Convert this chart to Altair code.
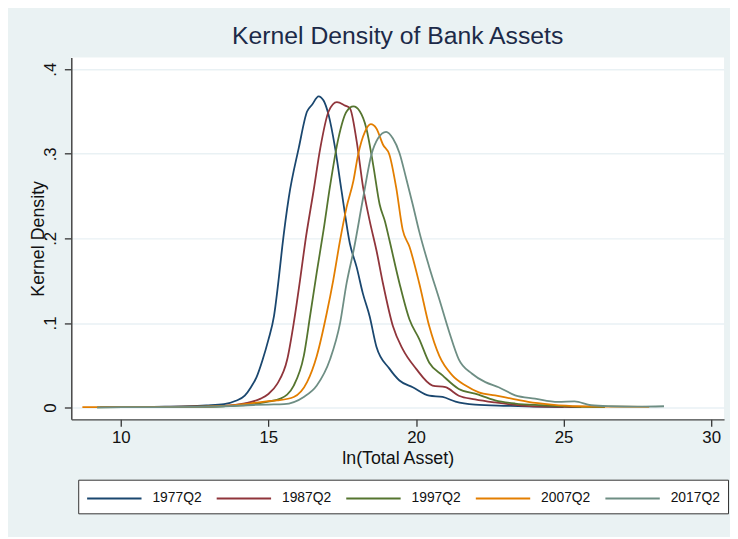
import altair as alt
import pandas as pd

series_names = ["1977Q2", "1987Q2", "1997Q2", "2007Q2", "2017Q2"]
series_colors = ["#1a476f", "#90353b", "#55752f", "#e37e00", "#6e8e84"]

x_1977 = [9.3, 10.5, 11.5, 12.3, 12.9, 13.5, 13.9, 14.2, 14.41, 14.6, 14.8, 15.0, 15.19, 15.36, 15.47,
          15.69, 16.03, 16.31, 16.48, 16.70, 16.87, 17.04, 17.26, 17.48, 17.76, 17.99, 18.2, 18.43,
          18.66, 19.1, 19.44, 19.89, 20.45, 20.9, 21.34, 22.0, 23.1, 24.0, 25.0]
y_1977 = [0.0005, 0.0007, 0.001, 0.0015, 0.0025, 0.004, 0.008, 0.014, 0.024, 0.036, 0.056, 0.08, 0.108,
          0.155, 0.19, 0.248, 0.307, 0.35, 0.358, 0.368, 0.363, 0.346, 0.307, 0.256, 0.194, 0.166, 0.135,
          0.108, 0.072, 0.046, 0.032, 0.024, 0.014, 0.0125, 0.007, 0.0035, 0.002, 0.001, 0.0005]

x_1987 = [9.5, 11.0, 12.5, 13.5, 14.2, 14.74, 15.0, 15.30, 15.64, 15.86, 16.09, 16.25, 16.53, 16.76,
          17.04, 17.32, 17.6, 17.76, 17.99, 18.21, 18.43, 18.66, 18.88, 19.22, 19.55, 20.0, 20.56,
          21.0, 21.45, 22.0, 22.68, 23.7, 24.6, 25.6]
y_1987 = [0.0004, 0.0006, 0.001, 0.002, 0.005, 0.0105, 0.016, 0.028, 0.057, 0.1, 0.155, 0.196, 0.256,
          0.307, 0.35, 0.361, 0.357, 0.354, 0.315, 0.26, 0.221, 0.186, 0.147, 0.096, 0.069, 0.046, 0.026,
          0.024, 0.014, 0.0097, 0.006, 0.002, 0.001, 0.0005]

x_1997 = [9.2, 11.0, 12.5, 13.5, 14.5, 15.0, 15.41, 15.86, 16.2, 16.42, 16.64, 16.87, 17.09, 17.37,
          17.65, 17.88, 18.1, 18.32, 18.55, 18.77, 18.95, 19.1, 19.44, 19.78, 20.11, 20.45, 20.9,
          21.45, 22.0, 22.68, 23.36, 24.25, 25.3, 26.4]
y_1997 = [0.0003, 0.0005, 0.0008, 0.0015, 0.004, 0.007, 0.0105, 0.026, 0.061, 0.11, 0.16, 0.21,
          0.262, 0.318, 0.35, 0.356, 0.35, 0.33, 0.287, 0.24, 0.22, 0.198, 0.147, 0.104, 0.081, 0.053,
          0.038, 0.022, 0.0164, 0.0085, 0.0047, 0.0027, 0.0012, 0.0005]

x_2007 = [8.7, 9.5, 11.0, 12.5, 13.5, 14.41, 15.0, 15.3, 15.86, 16.31, 16.64, 16.98, 17.2, 17.43,
          17.65, 17.88, 18.04, 18.27, 18.47, 18.66, 18.88, 19.1, 19.33, 19.55, 19.78, 20.11, 20.45,
          20.79, 21.23, 21.68, 22.13, 22.68, 23.24, 23.8, 24.59, 25.5, 26.6, 27.9]
y_2007 = [0.0005, 0.0005, 0.0006, 0.001, 0.002, 0.005, 0.0075, 0.0085, 0.0125, 0.03, 0.061, 0.112,
          0.151, 0.198, 0.237, 0.268, 0.299, 0.326, 0.335, 0.33, 0.311, 0.299, 0.26, 0.21, 0.19, 0.147,
          0.096, 0.061, 0.038, 0.026, 0.018, 0.0144, 0.0105, 0.0067, 0.0035, 0.0015, 0.001, 0.0008]

x_2017 = [9.2, 11.0, 12.5, 13.5, 14.5, 15.0, 15.53, 16.2, 16.64, 17.09, 17.43, 17.65, 17.9, 18.21,
          18.49, 18.71, 18.99, 19.22, 19.44, 19.66, 19.89, 20.11, 20.45, 20.79, 21.12, 21.45, 21.9,
          22.35, 22.8, 23.36, 24.03, 24.81, 25.37, 25.93, 26.6, 27.5, 28.4]
y_2017 = [0.0003, 0.0005, 0.0008, 0.0015, 0.003, 0.0035, 0.004, 0.0125, 0.026, 0.057, 0.1, 0.147,
          0.188, 0.248, 0.299, 0.318, 0.326, 0.318, 0.301, 0.272, 0.24, 0.208, 0.166, 0.128, 0.09,
          0.057, 0.04, 0.03, 0.024, 0.0144, 0.0105, 0.0067, 0.0074, 0.0027, 0.0015, 0.001, 0.0015]

x_ticks = [10, 15, 20, 25, 30]
y_ticks = [0, 0.1, 0.2, 0.3, 0.4]

xs = [x_1977, x_1987, x_1997, x_2007, x_2017]
ys = [y_1977, y_1987, y_1997, y_2007, y_2017]
rows = []
for name, xv, yv in zip(series_names, xs, ys):
    for i, (a, b) in enumerate(zip(xv, yv)):
        rows.append({"series": name, "x": a, "y": b, "order": i})
df = pd.DataFrame(rows)

FONT = "Liberation Sans"

chart = alt.Chart(df).mark_line(strokeWidth=1.8, interpolate="monotone").encode(
    x=alt.X("x:Q",
            scale=alt.Scale(domain=[8.325, 30.435], nice=False, zero=False),
            axis=alt.Axis(values=x_ticks, title="ln(Total Asset)", grid=False,
                          domainColor="#444444", domainWidth=1.5,
                          tickColor="#333333", tickSize=7, tickWidth=1.3,
                          labelFontSize=17, labelColor="#111111", labelPadding=3,
                          labelFont=FONT, titleFont=FONT, titleFontSize=18,
                          titleFontWeight="normal", titleColor="#111111",
                          titleY=45, titleBaseline="alphabetic")),
    y=alt.Y("y:Q",
            scale=alt.Scale(domain=[-0.014, 0.414], nice=False, zero=False),
            axis=alt.Axis(values=y_ticks, title="Kernel Density",
                          labelExpr="datum.value == 0 ? '0' : replace(format(datum.value, '.1f'), '0.', '.')",
                          grid=True, gridColor="#e9f1f4", gridWidth=1.5,
                          domainColor="#444444", domainWidth=1.5,
                          tickColor="#333333", tickSize=7, tickWidth=1.3,
                          labelAngle=270, labelAlign="center", labelBaseline="bottom",
                          labelFontSize=17, labelColor="#111111", labelPadding=5,
                          labelFont=FONT, titleFont=FONT, titleFontSize=18,
                          titleFontWeight="normal", titleColor="#111111",
                          titleAngle=270, titleAlign="center", titleBaseline="middle",
                          titleX=-33, titleY=183)),
    color=alt.Color("series:N",
                    scale=alt.Scale(domain=series_names, range=series_colors),
                    legend=alt.Legend(title=None, orient="none", legendX=7, legendY=427,
                                      direction="horizontal", columns=5,
                                      fillColor="white", strokeColor="#333333",
                                      padding=8, symbolType="M-1,0H4.5", symbolSize=400,
                                      symbolStrokeWidth=1.8, labelFontSize=14,
                                      labelFont=FONT, labelColor="#111111",
                                      labelOffset=45, columnPadding=11)),
    order="order:Q",
).properties(
    width=660,
    height=366,
    title=alt.Title("Kernel Density of Bank Assets", fontSize=25, font=FONT,
                    fontWeight="normal", color="#1c2a48", anchor="middle",
                    baseline="alphabetic", offset=-11),
    autosize=alt.AutoSizeParams(type="none"),
    padding={"left": 64, "top": 47, "right": 6, "bottom": 116},
).configure(
    background="#eaf2f3",
).configure_view(
    fill="white", stroke=None,
)

chart.save("out.html", embed_options={"renderer": "svg", "actions": False})
